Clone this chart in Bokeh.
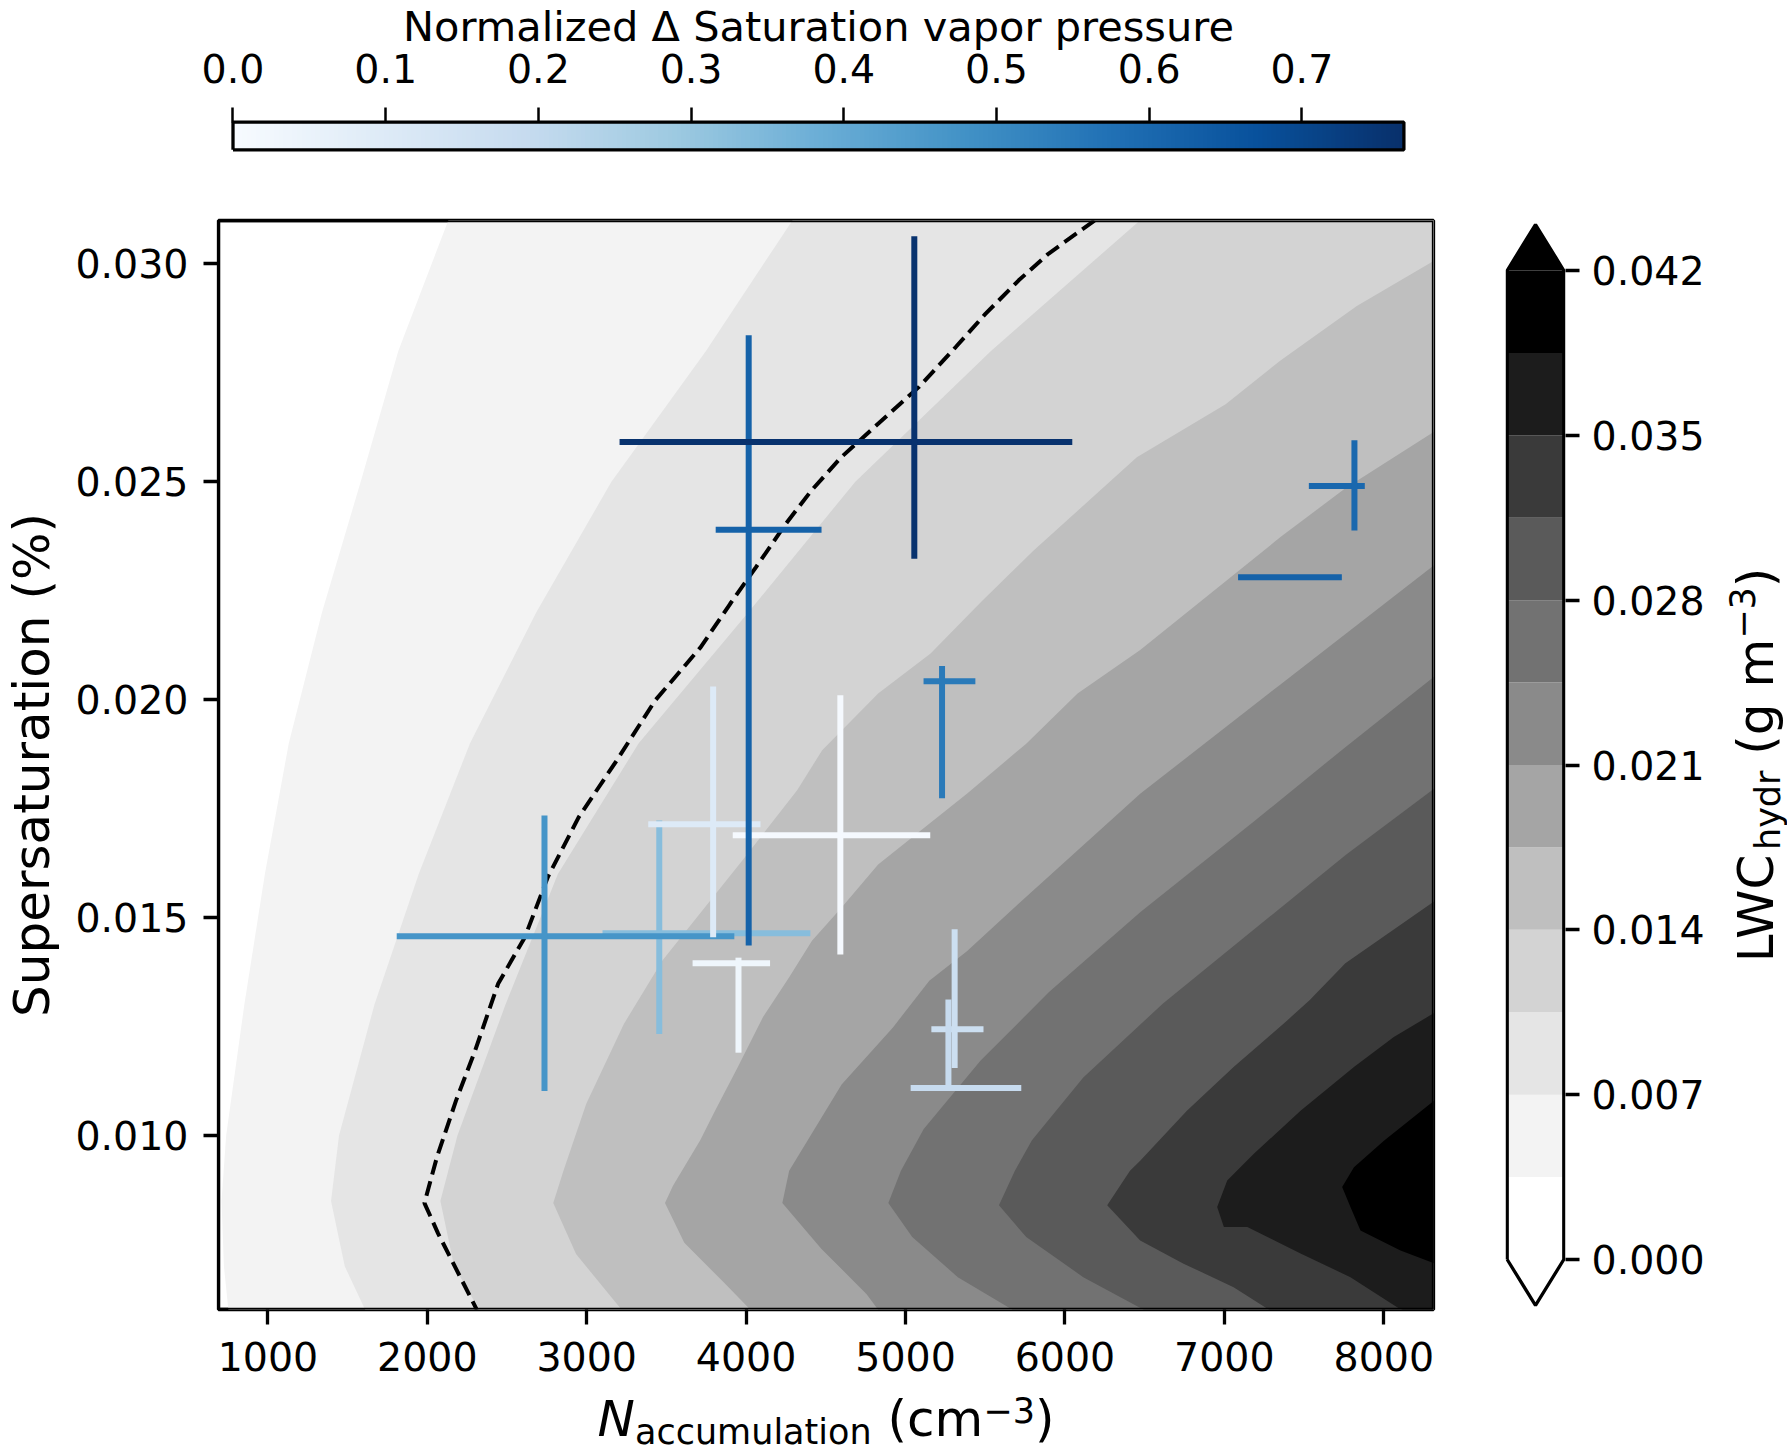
import numpy as np
from bokeh.plotting import figure
from bokeh.models import Range1d, FixedTicker, NumeralTickFormatter, LinearColorMapper, ColumnDataSource
from bokeh.core.properties import value
from bokeh.transform import linear_cmap
from bokeh.layouts import column, row
from bokeh.embed import file_html
from bokeh.resources import INLINE

FONT = "DejaVu Sans"

# ---- data ----
# LWC_hydr filled contour levels (g m-3) and the grey of each band
lwc_levels = [0.0, 0.0035, 0.007, 0.0105, 0.014, 0.0175, 0.021, 0.0245, 0.028, 0.0315, 0.035, 0.0385, 0.042]
band_colors = ["#ffffff", "#f3f3f3", "#e5e5e5", "#d3d3d3", "#bfbfbf", "#a5a5a5",
               "#8a8a8a", "#727272", "#5a5a5a", "#3a3a3a", "#1c1c1c", "#000000"]
lwc_ticks = [0.0, 0.007, 0.014, 0.021, 0.028, 0.035, 0.042]

# contour boundaries between bands (N_accumulation, supersaturation)
contour_y = [0.031, 0.028, 0.025, 0.022, 0.019, 0.016, 0.013, 0.010, 0.0085, 0.007, 0.006]
b1_x = [2132, 1818, 1582, 1339, 1131, 981, 852, 738, 709, 724, 752]
b2_x = [4291, 3748, 3155, 2683, 2268, 1946, 1668, 1446, 1396, 1482, 1610]
b3_x = [6472, 5536, 4685, 4013, 3326, 2819, 2490, 2189, 2082, 2168, 2325]
b4_x = [8320, 7831, 7352, 7008, 6451, 5800, 5478, 5157, 4828, 4477, 4320, 3991, 3476, 3233, 2997, 2854, 2790, 2933, 3219]
b4_y = [0.03008, 0.02903, 0.02778, 0.02678, 0.02556, 0.02341, 0.02226, 0.02106, 0.02014, 0.01884, 0.01792,
        0.01638, 0.01402, 0.01256, 0.01073, 0.00919, 0.00845, 0.00728, 0.00600]
b5_x = [8320, 7759, 7352, 6472, 6079, 5757, 5385, 4828, 4599, 4413, 4270, 4106, 3948, 3805, 3712, 3541, 3491, 3612, 3862, 4027]
b5_y = [0.02616, 0.02485, 0.02373, 0.02114, 0.02014, 0.01899, 0.01784, 0.01622, 0.01523, 0.01447, 0.01363,
        0.01272, 0.01157, 0.01057, 0.00989, 0.00885, 0.00845, 0.00754, 0.00662, 0.00600]
b6_x = [8320, 7352, 6472, 5707, 5385, 5149, 4921, 4599, 4270, 4227, 4470, 4756, 4828]
b6_y = [0.02310, 0.02035, 0.01784, 0.01531, 0.01423, 0.01355, 0.01248, 0.01117, 0.00919, 0.00845, 0.00741, 0.00636, 0.00600]
b7_x = [8320, 7759, 7187, 6472, 5900, 5471, 5114, 4971, 4892, 5042, 5328, 5671]
b7_y = [0.02054, 0.01891, 0.01721, 0.01512, 0.01329, 0.01172, 0.01015, 0.00919, 0.00845, 0.00767, 0.00675, 0.00600]
b8_x = [8320, 7759, 7187, 6615, 6115, 5793, 5686, 5586, 5757, 6115, 6494]
b8_y = [0.01797, 0.01643, 0.01473, 0.01303, 0.01133, 0.00989, 0.00919, 0.00840, 0.00767, 0.00675, 0.00600]
b9_x = [8320, 7759, 7536, 7394, 7058, 6765, 6472, 6408, 6265, 6472, 6744, 7058, 7280]
b9_y = [0.01538, 0.01395, 0.01311, 0.01264, 0.01157, 0.01057, 0.00942, 0.00919, 0.00840, 0.00759, 0.00706, 0.00652, 0.00600]
b10_x = [8320, 8063, 7813, 7478, 7185, 7018, 6955, 6997, 7144, 7478, 7791, 8084, 8117]
b10_y = [0.01282, 0.01226, 0.01157, 0.01057, 0.00958, 0.00897, 0.00836, 0.00790, 0.00790, 0.00729, 0.00675, 0.00606, 0.00600]
b11_x = [8320, 8001, 7813, 7739, 7791, 7854, 8105, 8320]
b11_y = [0.01081, 0.00988, 0.00927, 0.00882, 0.00836, 0.00782, 0.00736, 0.00706]

# dashed reference contour
dash_x = [6185, 5896, 5710, 5501, 5315, 5083, 4967, 4735, 4596, 4410, 4248, 4062, 3900, 3714, 3429,
          3189, 2949, 2756, 2612, 2444, 2300, 2180, 2060, 1982, 2068, 2311]
dash_y = [0.03099, 0.03023, 0.02962, 0.02885, 0.02809, 0.02717, 0.02679, 0.02602, 0.02556, 0.02480, 0.02403,
          0.02304, 0.02220, 0.02120, 0.01998, 0.01861, 0.01730, 0.01593, 0.01455, 0.01348, 0.01195, 0.01080,
          0.00950, 0.00845, 0.00775, 0.00600]

# observations: centre, x extent, y extent, normalized delta saturation vapour pressure
eb_x = [3455, 2735, 3793, 4591, 3952, 5308, 5269, 5229, 7410, 7816, 4016, 5055]
eb_xlo = [3099, 1808, 3386, 3916, 3664, 5162, 5032, 5113, 7086, 7530, 3809, 3206]
eb_xhi = [4403, 3926, 4090, 5155, 4150, 5489, 5726, 5438, 7737, 7881, 4473, 6046]
eb_y = [0.01464, 0.01457, 0.01714, 0.01689, 0.01395, 0.01244, 0.01109, 0.02042, 0.02281, 0.02490, 0.02390, 0.02591]
eb_ylo = [0.01233, 0.01102, 0.01455, 0.01415, 0.01190, 0.01155, 0.01109, 0.01774, 0.02281, 0.02388, 0.01436, 0.02323]
eb_yhi = [0.01723, 0.01734, 0.02030, 0.02010, 0.01408, 0.01473, 0.01312, 0.02077, 0.02281, 0.02595, 0.02836, 0.03063]
eb_val = [0.33, 0.47, 0.10, 0.01, 0.03, 0.17, 0.19, 0.55, 0.62, 0.60, 0.62, 0.76]

x_ticks = [1000, 2000, 3000, 4000, 5000, 6000, 7000, 8000]
y_ticks = [0.010, 0.015, 0.020, 0.025, 0.030]
sat_ticks = [0.0, 0.1, 0.2, 0.3, 0.4, 0.5, 0.6, 0.7]
SAT_MAX = 0.7668

X_MIN, X_MAX = 690, 8312
Y_MIN, Y_MAX = 0.006008, 0.030993

blues_anchor = ["#f7fbff", "#deebf7", "#c6dbef", "#9ecae1", "#6baed6", "#4292c6", "#2171b5", "#08519c", "#08306b"]


def interp_palette(anchors, n):
    rgb = np.array([[int(c[i:i + 2], 16) for i in (1, 3, 5)] for c in anchors], float)
    t = np.linspace(0, 1, n)
    pos = np.linspace(0, 1, len(anchors))
    ch = [np.interp(t, pos, rgb[:, k]) for k in range(3)]
    return ["#%02x%02x%02x" % (int(round(ch[0][i])), int(round(ch[1][i])), int(round(ch[2][i]))) for i in range(n)]


blues = interp_palette(blues_anchor, 256)


def style_axis(ax, tick_out, standoff):
    ax.axis_line_color = None
    ax.major_tick_out = tick_out
    ax.major_tick_in = 0
    ax.major_tick_line_width = 3.3
    ax.major_tick_line_color = "black"
    ax.minor_tick_line_color = None
    ax.major_label_text_font = FONT
    ax.major_label_text_font_size = "39.5px"
    ax.major_label_text_color = "black"
    ax.major_label_standoff = standoff


def text_fig(x0, x1, y0, y1, **borders):
    # a bare figure whose frame is measured in page pixels (y down), used for titles
    f = figure(x_range=Range1d(x0, x1), y_range=Range1d(y1, y0),
               frame_width=int(x1 - x0), frame_height=int(y1 - y0),
               x_axis_location=None, y_axis_location=None,
               toolbar_location=None, output_backend="svg", **borders)
    f.grid.visible = False
    f.outline_line_color = None
    return f


BASE_SHIFT = 0.3  # the text glyph sits its baseline this many em below the anchor


def put(f, txt, x, y, size, angle=0.0, align="left", style="normal", sx=1.0, sy=1.0):
    # (x, y) is the wanted baseline point; sx, sy are pixels per data unit
    # (positive sy: data grows downwards, as in the page-pixel title figures)
    d = BASE_SHIFT * float(size.replace("px", ""))
    if angle:
        x -= d / sx
    else:
        y -= d / sy
    f.text(x=[x], y=[y], text=[txt], text_font=value(FONT), text_font_size=value(size),
           text_font_style=style, text_align=align, text_baseline="alphabetic",
           angle=angle, text_color="black")


SIDE = dict(min_border_left=180, min_border_right=337)

# ---- colorbar on top, with its title ----
PX_X = 1527.0   # pixels per unit of normalized delta
PX_Y = 27.6     # bar height in pixels
pt = figure(x_range=Range1d(-52.5 / PX_X, SAT_MAX + 46.6 / PX_X),
            y_range=Range1d(-3.7 / PX_Y, 1 + 121.7 / PX_Y),
            frame_width=1270, frame_height=153,
            min_border_top=0, min_border_bottom=0, **SIDE,
            x_axis_location="above", y_axis_location=None,
            toolbar_location=None, output_backend="svg")
sat_mapper = LinearColorMapper(palette=blues, low=0, high=SAT_MAX)
grad = np.linspace(0, SAT_MAX, 256).reshape(1, -1)
pt.image(image=[grad], x=0, y=0, dw=SAT_MAX, dh=1, color_mapper=sat_mapper)
pt.line([0, 0, SAT_MAX, SAT_MAX, 0], [0, 1, 1, 0, 0], line_color="black", line_width=3.3)
pt.xaxis.fixed_location = 1
pt.xaxis.ticker = FixedTicker(ticks=sat_ticks)
pt.xaxis.formatter = NumeralTickFormatter(format="0.0")
style_axis(pt.xaxis[0], 15, 24)
pt.xaxis.major_tick_line_width = 2.5
pt.grid.visible = False
pt.outline_line_color = None
# title: centred over the bar, baseline 38.5 px from the page top
put(pt, "Normalized \u0394 Saturation vapor pressure", (818 - 232.5) / PX_X, 1 + (121.7 - 38.5) / PX_Y,
    "41.5px", align="center", sx=PX_X, sy=-PX_Y)

ROWB = dict(min_border_top=67, min_border_bottom=78)

# ---- y axis title ----
fy = text_fig(0, 66, 220, 1309, min_border_left=0, min_border_right=0, **ROWB)
put(fy, "Supersaturation (%)", 46.5, 764.5, "50px", angle=np.pi / 2, align="center")

# ---- main panel ----
p = figure(x_range=Range1d(X_MIN, X_MAX), y_range=Range1d(Y_MIN, Y_MAX),
           frame_width=1215, frame_height=1089,
           min_border_left=152, min_border_right=8, **ROWB,
           toolbar_location=None, output_backend="svg")

XR = 12000
PAD = 0.01
bounds = [(b1_x, contour_y), (b2_x, contour_y), (b3_x, contour_y), (b4_x, b4_y), (b5_x, b5_y),
          (b6_x, b6_y), (b7_x, b7_y), (b8_x, b8_y), (b9_x, b9_y), (b10_x, b10_y), (b11_x, b11_y)]
pxs, pys = [], []
for bx, by in bounds:
    pxs.append([bx[0]] + list(bx) + [bx[-1], XR, XR])
    pys.append([by[0] + PAD] + list(by) + [by[-1] - PAD, by[-1] - PAD, by[0] + PAD])
p.patches(pxs, pys, fill_color=band_colors[1:], line_color=None)

p.line(dash_x, dash_y, line_color="black", line_width=4, line_dash="15 7")

seg = dict(x0=[], y0=[], x1=[], y1=[], v=[])
for i in range(len(eb_x)):
    seg["x0"] += [eb_xlo[i], eb_x[i]]
    seg["x1"] += [eb_xhi[i], eb_x[i]]
    seg["y0"] += [eb_y[i], eb_ylo[i]]
    seg["y1"] += [eb_y[i], eb_yhi[i]]
    seg["v"] += [eb_val[i], eb_val[i]]
p.segment("x0", "y0", "x1", "y1", source=ColumnDataSource(seg), line_width=6,
          line_color=linear_cmap("v", blues, 0, SAT_MAX))

p.line([X_MIN, X_MIN, X_MAX, X_MAX, X_MIN], [Y_MIN, Y_MAX, Y_MAX, Y_MIN, Y_MIN],
       line_color="black", line_width=3.3)

p.xaxis.ticker = FixedTicker(ticks=x_ticks)
p.xaxis.formatter = NumeralTickFormatter(format="0")
p.yaxis.ticker = FixedTicker(ticks=y_ticks)
p.yaxis.formatter = NumeralTickFormatter(format="0.000")
style_axis(p.xaxis[0], 15, 17)
style_axis(p.yaxis[0], 15, 15)
p.grid.visible = False
p.outline_line_color = "black"
p.outline_line_width = 3.3

# ---- LWC colorbar on the right ----
EXT = 0.00195
pr = figure(x_range=Range1d(-0.03, 1.03), y_range=Range1d(-0.002123, 0.044123),
            frame_width=60, frame_height=1089,
            min_border_left=64, min_border_right=140, **ROWB,
            x_axis_location=None, y_axis_location="right",
            toolbar_location=None, output_backend="svg")
pr.quad(left=0, right=1, bottom=lwc_levels[:-1], top=lwc_levels[1:], fill_color=band_colors, line_color=None)
top_v, bot_v = lwc_levels[-1], lwc_levels[0]
pr.patches([[0, 1, 0.5], [0, 1, 0.5]], [[top_v, top_v, top_v + EXT], [bot_v, bot_v, bot_v - EXT]],
           fill_color=[band_colors[-1], band_colors[0]], line_color=None)
pr.line([0, 0, 0.5, 1, 1, 0.5, 0], [bot_v, top_v, top_v + EXT, top_v, bot_v, bot_v - EXT, bot_v],
        line_color="black", line_width=3.3)
pr.yaxis.ticker = FixedTicker(ticks=lwc_ticks)
pr.yaxis.formatter = NumeralTickFormatter(format="0.000")
style_axis(pr.yaxis[0], 14, 12)
pr.grid.visible = False
pr.outline_line_color = None

# ---- LWC title (reads upward) ----
fl = text_fig(1705, 1787, 220, 1309, min_border_left=0, min_border_right=0, **ROWB)
put(fl, "LWC", 1768, 961.75, "50px", angle=np.pi / 2)
put(fl, "hydr", 1776, 849.55, "35px", angle=np.pi / 2)
put(fl, "(g m", 1768, 754.15, "50px", angle=np.pi / 2)
put(fl, "\u22123", 1750, 638.3, "35px", angle=np.pi / 2)
put(fl, ")", 1768, 586.7, "50px", angle=np.pi / 2)

# ---- x axis title ----
fx = text_fig(180, 1450, 1387, 1450, min_border_top=0, min_border_bottom=0, **SIDE)
put(fx, "N", 597.1, 1433.5, "50px", style="italic")
put(fx, "accumulation", 634.5, 1441.5, "35px")
put(fx, "(cm", 887.1, 1433.5, "50px")
put(fx, "\u22123", 982.8, 1419.5, "35px")
put(fx, ")", 1034.4, 1433.5, "50px")

layout = column(pt, row(fy, p, pr, fl, spacing=0), fx, spacing=0)
open("out.html", "w").write(file_html(layout, INLINE))
